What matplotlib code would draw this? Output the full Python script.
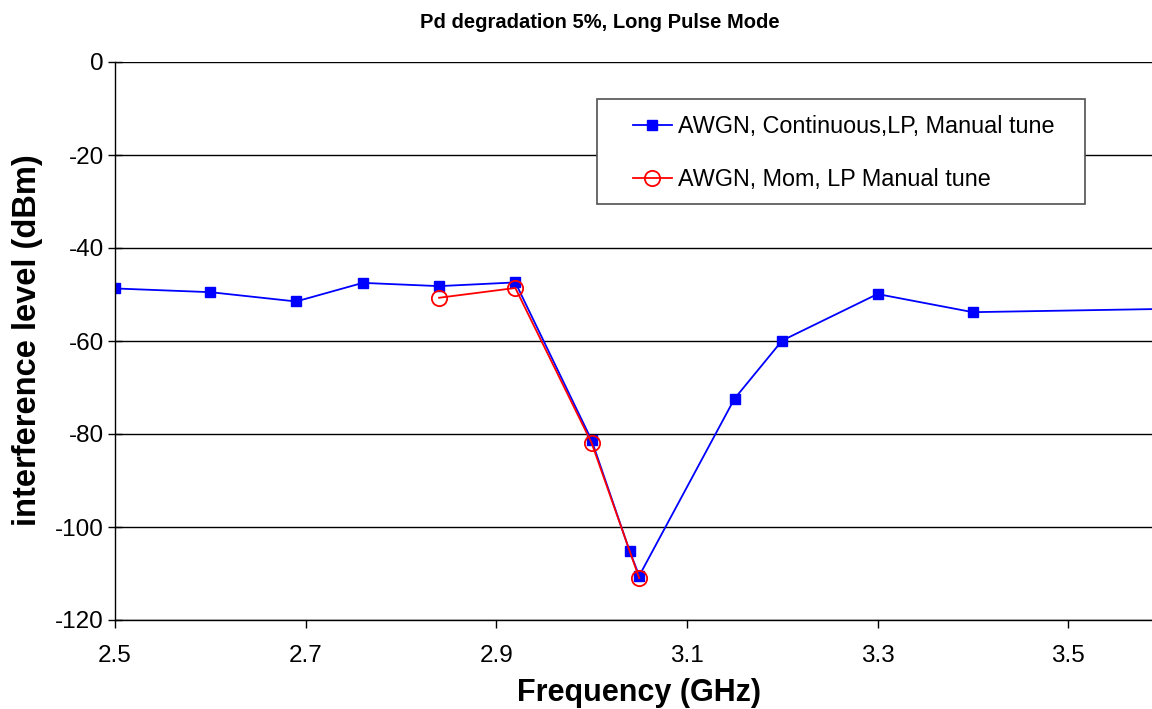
import matplotlib
matplotlib.use('Agg')
import matplotlib.pyplot as plt
from matplotlib.patches import Rectangle

plt.rcParams['font.family'] = ['Liberation Sans', 'DejaVu Sans']

# blue series: continuous AWGN
freq_cont = [2.5, 2.6, 2.69, 2.76, 2.84, 2.92, 3.0, 3.04, 3.05, 3.15, 3.2, 3.3, 3.4, 3.6]
level_cont = [-48.7, -49.5, -51.5, -47.5, -48.2, -47.4, -81.3, -105.2, -110.5,
              -72.4, -59.9, -49.9, -53.8, -53.1]

# red series: Mom AWGN
freq_mom = [2.84, 2.92, 3.0, 3.05]
level_mom = [-50.7, -48.6, -81.9, -111.0]

xticks = [2.5, 2.7, 2.9, 3.1, 3.3, 3.5]
yticks = [0, -20, -40, -60, -80, -100, -120]

W, H = 1152, 709
fig = plt.figure(figsize=(W/100, H/100), dpi=100)
ax = fig.add_axes([115/W, 1 - 620/H, 1 - 115/W, (620 - 62)/H])

ax.plot(freq_cont, level_cont, color='#0000ff', lw=1.3, marker='s', ms=7,
        mfc='#0000ff', mec='#0000ff', label='AWGN, Continuous,LP, Manual tune')
ax.plot(freq_mom, level_mom, color='#ff0000', lw=1.3, marker='o', ms=11,
        mfc='none', mec='#ff0000', mew=1.3, label='AWGN, Mom, LP Manual tune')

ax.set_xlim(2.5, 3.588)
ax.set_ylim(-120, 0)
ax.set_xticks(xticks)
ax.set_xticklabels([str(v) for v in xticks])
ax.set_yticks(yticks)
ax.set_yticklabels([str(v) for v in yticks])
ax.tick_params(axis='both', labelsize=17.5, color='black', width=1)
ax.tick_params(axis='x', direction='out', length=6, pad=12)
ax.tick_params(axis='y', direction='inout', length=10, pad=3)

ax.grid(axis='y', color='black', lw=1)
ax.set_axisbelow(True)
for s in ['top', 'right']:
    ax.spines[s].set_visible(False)
for s in ['left', 'bottom']:
    ax.spines[s].set_color('black')
    ax.spines[s].set_linewidth(1)

# legend box drawn by hand, entries placed inside it
box = Rectangle((597/W, 1 - 204/H), (1085 - 597)/W, (204 - 99)/H, transform=fig.transFigure,
                facecolor='white', edgecolor='#505050', lw=1.2, zorder=4, clip_on=False)
ax.add_patch(box)
leg = ax.legend(loc='upper left', bbox_to_anchor=(633/W, 1 - 115/H),
                bbox_transform=fig.transFigure, fontsize=16.8, frameon=False,
                borderpad=0, borderaxespad=0, labelspacing=1.28,
                handlelength=1.67, handletextpad=0.26)
leg.set_zorder(6)

fig.text(600/W, 1 - 22/H, 'Pd degradation 5%, Long Pulse Mode', ha='center', va='center',
         fontsize=14.5, fontweight='bold')
fig.text(639/W, 1 - 693/H, 'Frequency (GHz)', ha='center', va='center',
         fontsize=22, fontweight='bold')
fig.text(28/W, 1 - 340/H, 'interference level (dBm)', ha='center', va='center',
         fontsize=23.5, fontweight='bold', rotation=90)

fig.savefig('out.png', dpi=100)
